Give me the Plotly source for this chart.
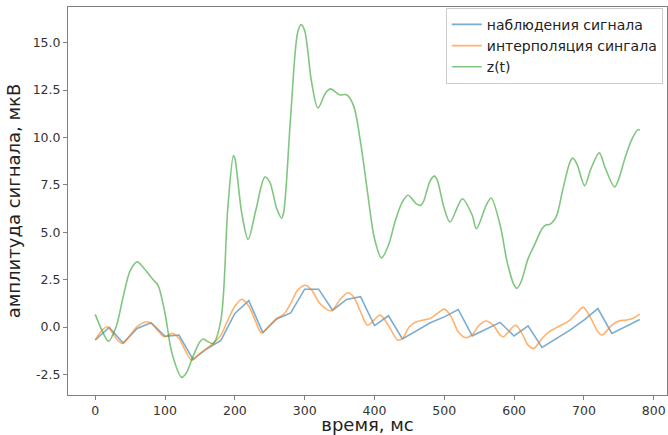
import plotly.graph_objects as go

# observations (every 20 ms)
obs_t = list(range(0, 781, 20))
obs_v = [-0.68, -0.02, -0.84, -0.07, 0.23, -0.49, -0.42, -1.70, -1.14, -0.70,
         0.72, 1.40, -0.29, 0.43, 0.75, 2.0, 2.0, 0.89, 1.46, 1.6,
         0.08, 0.6, -0.62, -0.18, 0.23, 0.54, 0.93, -0.46, -0.1, 0.25,
         -0.47, 0.07, -1.07, -0.6, -0.16, 0.37, 0.98, -0.33, 0.02, 0.4]

# interpolated signal
interp_t = [0, 10, 17, 20, 30, 39, 50, 60, 74, 80, 90, 99, 110, 120, 130, 138, 150, 160,
            170, 180, 190, 200, 210, 220, 230, 238, 250, 260, 270, 280, 290, 301, 310,
            320, 330, 336, 340, 350, 362, 370, 380, 390, 400, 408, 420, 433, 440, 450,
            460, 470, 480, 490, 500, 510, 520, 531, 540, 550, 560, 570, 580, 585, 590,
            602, 610, 620, 628, 640, 650, 660, 670, 680, 690, 699, 710, 720, 726, 740,
            750, 760, 770, 780]
interp_v = [-0.68, -0.16, 0.02, -0.05, -0.6, -0.86, -0.43, 0.02, 0.28, 0.2, -0.19, -0.51,
            -0.33, -0.6, -1.3, -1.74, -1.39, -1.12, -0.82, -0.42, 0.37, 1.1, 1.47, 1.1,
            0.28, -0.3, 0.1, 0.46, 0.68, 1.25, 1.95, 2.21, 1.95, 1.33, 0.97, 0.86, 0.9,
            1.42, 1.81, 1.6, 0.81, 0.1, 0.4, 0.63, 0.1, -0.68, -0.6, 0.02, 0.28, 0.37,
            0.46, 0.72, 0.95, 0.54, -0.25, -0.56, -0.4, 0.1, 0.32, 0.1, -0.42, -0.51,
            -0.33, 0.1, -0.25, -0.95, -1.12, -0.6, -0.25, -0.04, 0.15, 0.37, 0.75, 1.04,
            0.46, -0.25, -0.42, 0.1, 0.32, 0.37, 0.46, 0.68]

# z(t)
z_t = [0, 10, 19, 30, 40, 50, 60, 70, 83, 90, 100, 110, 124, 130, 140, 150, 155, 160,
       169, 180, 190, 198, 200, 210, 219, 230, 243, 250, 260, 267, 270, 280, 290, 295,
       300, 310, 319, 330, 337, 350, 360, 370, 380, 390, 400, 410, 420, 430, 440, 448,
       460, 466, 470, 480, 486, 490, 500, 508, 520, 526, 540, 546, 560, 567, 580, 590,
       600, 604, 610, 620, 630, 640, 646, 650, 660, 670, 680, 684, 690, 701, 710, 722,
       730, 744, 750, 760, 770, 777, 780]
z_v = [0.67, -0.2, -0.74, 0.02, 1.6, 2.97, 3.44, 3.09, 2.5, 2.2, 0.72, -1.39, -2.65,
       -2.45, -1.56, -0.77, -0.63, -0.74, -0.86, 0.37, 6.33, 9.05, 8.9, 5.98, 4.63,
       6.16, 7.91, 7.65, 6.25, 5.75, 6.07, 11.16, 15.54, 15.95, 15.63, 12.9, 11.56,
       12.35, 12.56, 12.25, 12.25, 11.68, 9.75, 7.12, 4.67, 3.65, 4.32, 5.63, 6.6, 6.95,
       6.5, 6.42, 6.6, 7.74, 7.96, 7.74, 6.25, 5.54, 6.42, 6.77, 5.9, 5.19, 6.42, 6.81,
       5.37, 3.44, 2.21, 2.04, 2.39, 3.61, 4.4, 5.19, 5.4, 5.4, 5.8, 7.3, 8.7, 8.91, 8.6,
       7.46, 8.35, 9.19, 8.44, 7.39, 7.83, 9.05, 10.0, 10.4, 10.38]

x_ticks = [0, 100, 200, 300, 400, 500, 600, 700, 800]
y_ticks = [-2.5, 0.0, 2.5, 5.0, 7.5, 10.0, 12.5, 15.0]

FONT = "DejaVu Sans"

fig = go.Figure()
fig.add_trace(go.Scatter(x=obs_t, y=obs_v, mode="lines", name="наблюдения сигнала",
                         line=dict(color="rgba(31,119,180,0.6)", width=1.6)))
fig.add_trace(go.Scatter(x=interp_t, y=interp_v, mode="lines", name="интерполяция сингала",
                         line=dict(color="rgba(255,127,14,0.6)", width=1.6, shape="spline",
                                   smoothing=0.9)))
fig.add_trace(go.Scatter(x=z_t, y=z_v, mode="lines", name="z(t)",
                         line=dict(color="rgba(44,160,44,0.6)", width=1.6, shape="spline",
                                   smoothing=0.9)))

axis_common = dict(showgrid=False, zeroline=False, showline=True, mirror=True,
                   linecolor="#808080", linewidth=1, ticks="outside", ticklen=4,
                   tickcolor="#808080", tickfont=dict(family=FONT, size=12.5, color="#333333"),
                   automargin=False)

fig.update_layout(
    width=668, height=435,
    margin=dict(l=68, r=1, t=7, b=40),
    paper_bgcolor="white", plot_bgcolor="white",
    font=dict(family=FONT, color="#222222"),
    xaxis=dict(range=[-39, 819], tickvals=x_ticks, ticktext=[str(v) for v in x_ticks],
               title=dict(text="время, мс", font=dict(family=FONT, size=18, color="#222222"),
                          standoff=6),
               **axis_common),
    yaxis=dict(range=[-3.58, 16.88], tickvals=y_ticks, ticktext=[f"{v:.1f}" for v in y_ticks],
               title=dict(text="амплитуда сигнала, мкВ",
                          font=dict(family=FONT, size=18, color="#222222"), standoff=7),
               **axis_common),
    legend=dict(x=0.993, y=0.998, xanchor="right", yanchor="top",
                bgcolor="rgba(255,255,255,0.8)", bordercolor="#cccccc", borderwidth=1,
                font=dict(family=FONT, size=14, color="#222222"), tracegroupgap=0,
                itemwidth=30),
    showlegend=True,
)

fig.write_html("out.html",
               config={"displayModeBar": False},
               post_script="document.body.style.margin='0';document.body.style.padding='0';"
                           "document.body.style.overflow='hidden';")
